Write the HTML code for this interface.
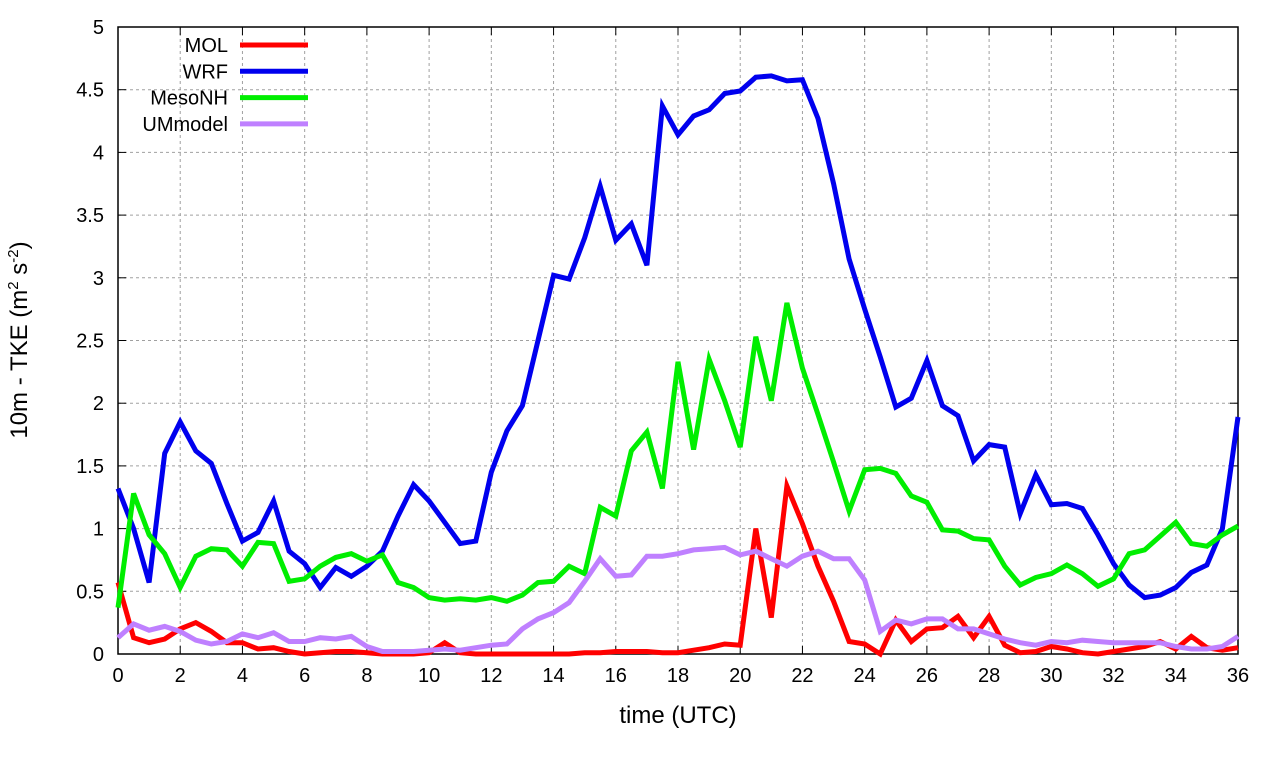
<!DOCTYPE html>
<html><head><meta charset="utf-8"><style>
body{margin:0;background:#fff;}
svg{display:block;font-family:"Liberation Sans",sans-serif;}
</style></head><body>
<svg id="chart" width="1280" height="760"></svg>
<script>
const hours=[];for(let i=0;i<=72;i++)hours.push(i*0.5);
const xTicks=[0,2,4,6,8,10,12,14,16,18,20,22,24,26,28,30,32,34,36];
const yTicks=[0,0.5,1,1.5,2,2.5,3,3.5,4,4.5,5];
const yTickLabels=["0","0.5","1","1.5","2","2.5","3","3.5","4","4.5","5"];
const seriesNames=["MOL","WRF","MesoNH","UMmodel"];
const seriesColors=["#ff0000","#0000ee","#00ee00","#bf80ff"];
const mol=[0.57,0.13,0.09,0.12,0.2,0.25,0.18,0.09,0.09,0.04,0.05,0.02,0,0.01,0.02,0.02,0.01,0,0,0,0.01,0.09,0.01,0,0,0,0,0,0,0,0.01,0.01,0.02,0.02,0.02,0.01,0.01,0.03,0.05,0.08,0.07,1.0,0.29,1.34,1.04,0.7,0.42,0.1,0.08,0,0.27,0.1,0.2,0.21,0.3,0.13,0.3,0.07,0.01,0.02,0.06,0.04,0.01,0,0.02,0.04,0.06,0.1,0.04,0.14,0.05,0.03,0.05];
const wrf=[1.32,1.0,0.57,1.6,1.85,1.62,1.52,1.2,0.9,0.97,1.22,0.82,0.72,0.53,0.69,0.62,0.7,0.82,1.1,1.35,1.22,1.05,0.88,0.9,1.45,1.78,1.98,2.5,3.02,2.99,3.32,3.73,3.3,3.43,3.1,4.37,4.14,4.29,4.34,4.47,4.49,4.6,4.61,4.57,4.58,4.27,3.75,3.15,2.75,2.37,1.97,2.04,2.34,1.98,1.9,1.54,1.67,1.65,1.12,1.43,1.19,1.2,1.16,0.95,0.72,0.55,0.45,0.47,0.53,0.65,0.71,1.0,1.89];
const mesonh=[0.37,1.28,0.95,0.8,0.53,0.78,0.84,0.83,0.7,0.89,0.88,0.58,0.6,0.7,0.77,0.8,0.74,0.79,0.57,0.53,0.45,0.43,0.44,0.43,0.45,0.42,0.47,0.57,0.58,0.7,0.64,1.17,1.1,1.62,1.77,1.32,2.33,1.63,2.35,2.02,1.65,2.53,2.02,2.8,2.28,1.91,1.53,1.14,1.47,1.48,1.44,1.26,1.21,0.99,0.98,0.92,0.91,0.7,0.55,0.61,0.64,0.71,0.64,0.54,0.6,0.8,0.83,0.94,1.05,0.88,0.86,0.95,1.02];
const um=[0.13,0.24,0.19,0.22,0.18,0.11,0.08,0.1,0.16,0.13,0.17,0.1,0.1,0.13,0.12,0.14,0.06,0.02,0.02,0.02,0.03,0.04,0.03,0.05,0.07,0.08,0.2,0.28,0.33,0.41,0.58,0.76,0.62,0.63,0.78,0.78,0.8,0.83,0.84,0.85,0.79,0.82,0.76,0.7,0.78,0.82,0.76,0.76,0.59,0.18,0.27,0.24,0.28,0.28,0.2,0.2,0.16,0.12,0.09,0.07,0.1,0.09,0.11,0.1,0.09,0.09,0.09,0.09,0.06,0.04,0.04,0.06,0.14];
const allSeries=[mol,wrf,mesonh,um];

const L=118,R=1238,T=27,B=654;
const xs=v=>L+(v-0)/36*(R-L);
const ys=v=>B-(v/5)*(B-T);
const svg=document.getElementById('chart');
const NS='http://www.w3.org/2000/svg';
function mk(tag,attrs,parent){const e=document.createElementNS(NS,tag);for(const k in attrs)e.setAttribute(k,attrs[k]);(parent||svg).appendChild(e);return e;}

const grid=mk('g',{});


xTicks.forEach(t=>{if(t>0&&t<36){const l=mk('line',{x1:xs(t),x2:xs(t),y1:T,y2:B,stroke:'#a0a0a0','stroke-width':1,'stroke-dasharray':'3,3'},grid);}});
yTicks.forEach(t=>{if(t>0&&t<5){const l=mk('line',{x1:L,x2:R,y1:ys(t),y2:ys(t),stroke:'#a0a0a0','stroke-width':1,'stroke-dasharray':'3,3'},grid);}});

const frame=mk('rect',{x:L,y:T,width:R-L,height:B-T,fill:'none',stroke:'#000','stroke-width':1.5});



xTicks.forEach(t=>{
 mk('line',{x1:xs(t),x2:xs(t),y1:B,y2:B-8,stroke:'#000'});
 mk('line',{x1:xs(t),x2:xs(t),y1:T,y2:T+8,stroke:'#000'});
 const tx=mk('text',{x:xs(t),y:B+28,'text-anchor':'middle','font-size':20});
 tx.textContent=t;
 
 
});
yTicks.forEach((t,i)=>{
 mk('line',{x1:L,x2:L+8,y1:ys(t),y2:ys(t),stroke:'#000'});
 mk('line',{x1:R,x2:R-8,y1:ys(t),y2:ys(t),stroke:'#000'});
 const tx=mk('text',{x:L-14,y:ys(t)+7,'text-anchor':'end','font-size':20});
 tx.textContent=yTickLabels[i];
 
 
});

allSeries.forEach((s,si)=>{
 const d=s.map((v,i)=>(i?'L':'M')+xs(hours[i]).toFixed(1)+','+ys(v).toFixed(1)).join(' ');
 const p=mk('path',{d:d,fill:'none',stroke:seriesColors[si],'stroke-width':5,'stroke-linejoin':'miter'});
 
 
});

seriesNames.forEach((n,i)=>{
 const y=45+i*26.3;
 const g=mk('g',{});
 
 
 const tx=mk('text',{x:228,y:y+7,'text-anchor':'end','font-size':20},g);
 tx.textContent=n;
 mk('line',{x1:240,x2:308,y1:y,y2:y,stroke:seriesColors[i],'stroke-width':5},g);
});

const xt=mk('text',{x:678,y:723,'text-anchor':'middle','font-size':24});
xt.textContent='time (UTC)';


const yt=mk('text',{x:0,y:0,'text-anchor':'middle','font-size':24,transform:'translate(27,340) rotate(-90)'});
yt.innerHTML='10m - TKE (m<tspan dy="-9" font-size="15">2</tspan><tspan dy="9"> s</tspan><tspan dy="-9" font-size="15">-2</tspan><tspan dy="9">)</tspan>';


</script>
</body></html>
